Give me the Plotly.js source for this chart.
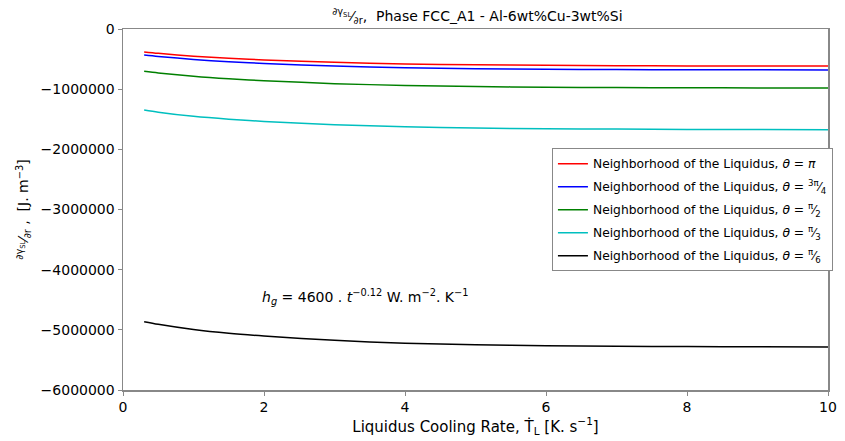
<!DOCTYPE html>
<html><head><meta charset="utf-8">
<script src="https://cdn.plot.ly/plotly-3.0.1.min.js"></script>
<style>html,body{margin:0;padding:0;background:#fff}</style>
</head><body><div id="chart" style="width:845px;height:441px"></div>
<script>
const xRate = [0.3, 0.5, 1, 1.5, 2, 3, 4, 5, 6, 7, 8, 9, 10];
const thetaPi = [-382000, -405000, -452000, -487000, -514000, -554000, -580000, -595000, -604000, -609000, -613000, -614000, -616000];
const theta3Pi4 = [-432000, -456000, -506000, -544000, -573000, -616000, -642000, -659000, -669000, -674000, -677000, -679000, -681000];
const thetaPi2 = [-703000, -730000, -786000, -828000, -860000, -908000, -938000, -956000, -967000, -973000, -977000, -979000, -981000];
const thetaPi3 = [-1346000, -1382000, -1452000, -1500000, -1536000, -1590000, -1624000, -1645000, -1658000, -1664000, -1669000, -1672000, -1674000];
const thetaPi6 = [-4865000, -4908000, -4995000, -5058000, -5103000, -5175000, -5222000, -5248000, -5263000, -5272000, -5278000, -5282000, -5285000];
const seriesNames = [
  "Neighborhood of the Liquidus, <i>θ</i> = <i>π</i>",
  "Neighborhood of the Liquidus, <i>θ</i> = <sup>3π</sup>⁄<sub>4</sub>",
  "Neighborhood of the Liquidus, <i>θ</i> = <sup>π</sup>⁄<sub>2</sub>",
  "Neighborhood of the Liquidus, <i>θ</i> = <sup>π</sup>⁄<sub>3</sub>",
  "Neighborhood of the Liquidus, <i>θ</i> = <sup>π</sup>⁄<sub>6</sub>"
];
const seriesColors = ["#ff0000", "#0000ff", "#008000", "#00bfbf", "#000000"];
const yTicks = [0, -1000000, -2000000, -3000000, -4000000, -5000000, -6000000];
const yTickText = ["0", "−1000000", "−2000000", "−3000000", "−4000000", "−5000000", "−6000000"];
const xTicks = [0, 2, 4, 6, 8, 10];

const ys = [thetaPi, theta3Pi4, thetaPi2, thetaPi3, thetaPi6];
const traces = ys.map((y, i) => ({
  x: xRate, y: y, type: 'scatter', mode: 'lines', line: {shape: 'spline', smoothing: 0.8, color: seriesColors[i], width: 1.5},
  name: seriesNames[i], legendgroup: 'g' + i
}));
const font = {family: 'DejaVu Sans, sans-serif', color: '#000'};
const layout = {
  width: 845, height: 441,
  margin: {l: 123, r: 12, t: 29, b: 51},
  paper_bgcolor: '#fff', plot_bgcolor: '#fff',
  font: Object.assign({size: 14}, font),
  title: {text: "<sup>∂γ<sub>SL</sub></sup>⁄<sub>∂r</sub>,  Phase FCC_A1 - Al-6wt%Cu-3wt%Si", x: 0.565, xanchor: 'center', y: 0.975, yanchor: 'top', font: Object.assign({size: 14}, font)},
  xaxis: {range: [0, 10], tickvals: xTicks, ticks: 'outside', ticklen: 4, tickcolor: '#888', showline: true, mirror: true, linecolor: '#888', linewidth: 1.5, showgrid: false, zeroline: false,
    tickfont: {size: 14}, title: {text: "Liquidus Cooling Rate, Ṫ<sub>L</sub> [K. s<sup>−1</sup>]", standoff: 6, font: {size: 15}}},
  yaxis: {range: [-6000000, 0], tickvals: yTicks, ticktext: yTickText, ticks: 'outside', ticklen: 4, tickcolor: '#888', showline: true, mirror: true, linecolor: '#888', linewidth: 1.5, showgrid: false, zeroline: false,
    tickfont: {size: 14}, title: {text: "<sup>∂γ<sub>SL</sub></sup>⁄<sub>∂r</sub> ,  [J. m<sup>−3</sup>]", standoff: 8, font: {size: 14}}},
  legend: {x: 1.007, xanchor: 'right', y: 0.67, yanchor: 'top', bordercolor: '#888', borderwidth: 1, bgcolor: '#fff', font: {size: 12.3}, tracegroupgap: 4},
  showlegend: true,
  annotations: [{x: 1.95, y: -4450000, xref: 'x', yref: 'y', xanchor: 'left', yanchor: 'middle', showarrow: false,
    text: "<i>h<sub>g</sub></i> = 4600 . <i>t</i><sup>−0.12</sup> W. m<sup>−2</sup>. K<sup>−1</sup>", font: {size: 14}}]
};
Plotly.newPlot('chart', traces, layout, {displayModeBar: false, staticPlot: true});
</script></body></html>
